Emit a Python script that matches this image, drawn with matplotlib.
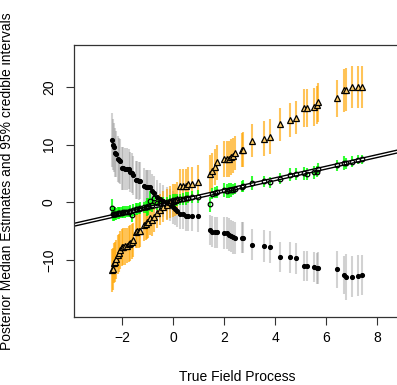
import numpy as np
import matplotlib
matplotlib.use("Agg")
import matplotlib.pyplot as plt

plt.rcParams['font.family'] = ['Liberation Sans', 'DejaVu Sans']
plt.rcParams['font.size'] = 10

# true field values (x) and posterior medians of the three fits
true_field = [-2.40, -2.38, -2.34, -2.27, -2.25, -2.18, -2.14, -2.10, -2.01, -1.95,
              -1.88, -1.82, -1.75, -1.69, -1.62, -1.56, -1.45, -1.42, -1.36, -1.29,
              -1.16, -1.06, -1.03, -0.97, -0.90, -0.84, -0.77, -0.64, -0.51, -0.38,
              -0.25, -0.12, 0.01, 0.08, 0.14, 0.27, 0.40, 0.51, 0.60, 0.73,
              0.99, 1.45, 1.52, 1.65, 1.71, 2.00, 2.11, 2.21, 2.28, 2.34,
              2.44, 2.69, 2.76, 3.10, 3.57, 3.79, 4.18, 4.59, 4.82, 5.14,
              5.27, 5.54, 5.64, 5.70, 6.44, 6.72, 6.77, 7.02, 7.25, 7.42]

grey_median = [10.8, 10.0, 9.5, 8.6, 8.4, 7.5, 7.3, 7.1, 5.9, 5.9,
               5.8, 5.8, 5.8, 5.3, 5.05, 4.66, 3.8, 3.8, 3.7, 3.7,
               2.76, 2.64, 2.64, 2.64, 2.6, 2.0, 1.6, 1.0, 0.6, 0.2,
               -0.1, -0.5, -0.9, -1.2, -1.5, -1.95, -2.07, -2.3, -2.41, -2.41,
               -2.41, -4.83, -5.12, -5.17, -5.17, -5.34, -5.34, -5.6, -5.81, -6.09,
               -6.16, -6.16, -6.16, -7.36, -7.59, -7.71, -9.43, -9.53, -9.71, -11.09,
               -11.09, -11.16, -11.43, -11.38, -11.6, -12.59, -12.98, -12.88, -12.71, -12.59]

orange_median = [-11.8, -11.6, -10.5, -10.3, -9.9, -9.1, -8.8, -8.3, -7.8, -7.7,
                 -7.6, -7.5, -7.2, -7.1, -6.8, -6.55, -5.1, -5.0, -5.0, -4.9,
                 -3.97, -3.7, -3.5, -3.4, -2.8, -3.1, -2.5, -1.8, -1.3, -0.8,
                 -0.4, 0.0, 0.3, 0.34, 0.64, 2.9, 2.9, 2.8, 3.1, 3.2,
                 3.5, 4.95, 5.4, 6.09, 6.9, 7.47, 7.47, 7.53, 7.81, 8.1,
                 8.57, 9.08, 9.1, 10.69, 11.03, 11.38, 13.5, 14.25, 14.66, 16.3,
                 16.3, 16.5, 16.9, 17.3, 18.05, 19.4, 19.5, 20.0, 20.0, 20.0]

green_median = [-1.0, -2.0, -2.1, -2.0, -2.0, -1.9, -1.9, -1.8, -1.8, -1.7,
                -1.7, -1.6, -1.6, -1.5, -2.25, -1.3, -1.2, -1.2, -1.1, -1.0,
                -0.9, -0.8, -0.8, -0.7, 0.2, -0.5, 0.7, -0.2, -0.1, -0.1,
                0.0, 0.2, 0.4, 0.3, 0.4, 0.5, 0.6, 0.7, 0.8, 0.9,
                1.0, -0.35, 1.5, 1.67, 1.75, 2.07, 1.9, 2.1, 2.07, 2.2,
                2.36, 2.7, 2.8, 3.39, 3.62, 3.45, 4.09, 4.78, 4.95, 5.05,
                4.95, 5.2, 5.3, 5.8, 6.38, 6.78, 6.75, 7.07, 7.36, 7.47]

# half widths of the 95% credible intervals
grey_half = [4.6, 4.4, 4.2, 4.2, 4.0, 4.0, 3.9, 3.9, 3.7, 3.7,
             3.6, 3.6, 3.5, 3.5, 3.5, 3.4, 3.3, 3.3, 3.3, 3.2,
             3.1, 3.0, 3.0, 3.0, 3.0, 2.9, 2.9, 2.8, 2.8, 2.8,
             2.8, 2.8, 2.8, 2.8, 2.8, 2.6, 2.6, 2.6, 2.6, 2.6,
             2.7, 2.6, 2.7, 2.7, 2.7, 2.8, 2.8, 2.8, 2.8, 2.8,
             2.8, 2.7, 2.7, 2.7, 2.8, 2.8, 2.6, 2.7, 2.7, 2.6,
             2.6, 2.6, 2.7, 2.7, 3.2, 3.3, 4.0, 3.5, 3.5, 3.4]

orange_half = [3.7, 3.6, 3.5, 3.5, 3.4, 3.4, 3.3, 3.3, 3.2, 3.2,
               3.2, 3.1, 3.1, 3.1, 3.0, 3.0, 2.9, 2.9, 2.9, 2.9,
               2.8, 2.8, 2.8, 2.8, 2.8, 2.7, 2.7, 2.7, 2.7, 2.7,
               2.7, 2.8, 2.8, 2.8, 2.8, 2.9, 2.9, 2.9, 3.0, 3.0,
               3.0, 3.2, 3.1, 3.1, 3.1, 3.1, 3.1, 3.1, 3.1, 3.0,
               3.0, 3.0, 3.0, 2.8, 3.0, 3.0, 2.9, 3.0, 2.9, 3.3,
               3.3, 3.3, 3.3, 3.3, 3.2, 3.7, 3.7, 3.6, 3.6, 3.6]

green_half = [1.6, 1.2, 1.1, 1.1, 1.0, 1.0, 1.0, 1.0, 1.0, 1.0,
              1.0, 1.0, 1.0, 1.0, 1.1, 1.0, 1.0, 1.0, 1.0, 1.0,
              1.0, 1.1, 1.6, 1.5, 1.7, 1.2, 1.3, 1.1, 1.1, 1.0,
              1.0, 1.0, 1.0, 1.1, 1.0, 1.0, 1.0, 1.1, 1.0, 1.0,
              1.1, 1.3, 1.0, 1.0, 1.0, 1.2, 1.2, 1.3, 1.2, 1.0,
              1.0, 1.0, 1.0, 1.2, 1.0, 1.0, 1.0, 1.1, 1.0, 1.1,
              1.0, 1.1, 1.0, 1.0, 1.0, 1.2, 1.0, 0.9, 0.8, 0.8]

x = np.array(true_field)

fig = plt.figure(figsize=(3.97, 3.85), dpi=100)
# the plot box runs off the right edge of the picture, so the right spine is hidden
ax = fig.add_axes([0.1864, 0.1766, 0.8136, 0.7065])
ax.spines['right'].set_visible(False)

# credible intervals
ax.vlines(x, np.array(grey_median) - grey_half, np.array(grey_median) + grey_half,
          color='grey', alpha=0.35, lw=1.5, zorder=1)
ax.vlines(x, np.array(orange_median) - orange_half, np.array(orange_median) + orange_half,
          color='orange', alpha=0.65, lw=1.5, zorder=1)
ax.vlines(x, np.array(green_median) - green_half, np.array(green_median) + green_half,
          color='#00ff00', alpha=0.8, lw=1.5, zorder=1)

# 1:1 line drawn as a double line
ax.axline((0, 0), slope=1, color='black', lw=3.0, zorder=2)
ax.axline((0, 0), slope=1, color='white', lw=1.0, zorder=2)

# medians
ax.plot(x, grey_median, 'o', color='black', ms=2.7, zorder=3)
ax.plot(x, orange_median, '^', mfc='#ffcc66', mec='black', mew=0.9, ms=4.3, zorder=3)
ax.plot(x, green_median, 'o', mfc='none', mec='black', mew=0.9, ms=3.3, zorder=3)

ax.set_xlim(-3.893, 8.787)
ax.set_ylim(-19.88, 27.26)
ax.set_xticks([-2, 0, 2, 4, 6, 8])
ax.set_yticks([-10, 0, 10, 20])
ax.set_xticklabels(['\u22122', '0', '2', '4', '6', '8'])
ax.set_yticklabels(['\u221210', '0', '10', '20'])
plt.setp(ax.get_yticklabels(), rotation=90, va='center')
ax.tick_params(direction='out', length=6, width=0.8, color='#333333')
ax.tick_params(axis='x', pad=4)
ax.tick_params(axis='y', pad=7)
for s in ax.spines.values():
    s.set_linewidth(0.9)
    s.set_color('#333333')

ax.set_xlabel("True Field Process")
ax.set_ylabel("Posterior Median Estimates and 95% credible intervals")
ax.xaxis.set_label_coords(0.5046, -0.196)
ax.yaxis.set_label_coords(-0.187, 0.5)

fig.savefig("out.png", dpi=100)
